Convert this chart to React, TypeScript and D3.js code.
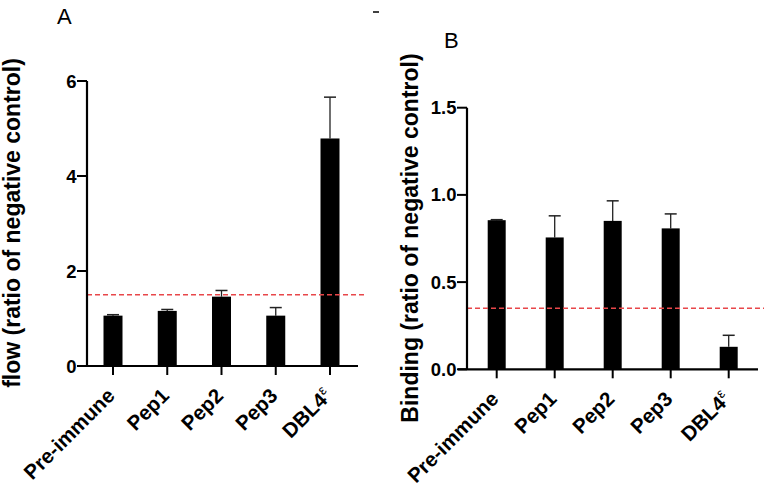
import React from "react";
import * as d3 from "d3";

const categories = ["Pre-immune", "Pep1", "Pep2", "Pep3", "DBL4"];
const flowValues = [1.06, 1.16, 1.46, 1.06, 4.79];
const flowErrors = [0.02, 0.03, 0.13, 0.17, 0.87];
const flowTicks = [0, 2, 4, 6];
const flowThreshold = 1.5;

const bindingValues = [0.855, 0.756, 0.851, 0.808, 0.129];
const bindingErrors = [0.003, 0.124, 0.115, 0.083, 0.066];
const bindingTicks = [0, 0.5, 1.0, 1.5];
const bindingThreshold = 0.35;

const FONT = "'Liberation Sans', Arial, sans-serif";

type PanelProps = {
  letter: string;
  letterX: number;
  letterY: number;
  ylabel: string;
  ylabelX: number;
  ylabelY: number;
  axisX: number;
  axisLeft: number;
  axisRight: number;
  y0: number;
  yTop: number;
  domainMax: number;
  ticks: number[];
  tickFmt: (v: number) => string;
  values: number[];
  errors: number[];
  threshold: number;
  thresholdRight: number;
  firstCenter: number;
  lastCenter: number;
  barWidth: number;
};

function Panel(p: PanelProps) {
  const y = d3.scaleLinear().domain([0, p.domainMax]).range([p.y0, p.yTop]);
  const x = d3
    .scalePoint<string>()
    .domain(categories)
    .range([p.firstCenter, p.lastCenter]);
  return (
    <g>
      <text x={p.letterX} y={p.letterY} fontFamily={FONT} fontSize={22} fill="#000">
        {p.letter}
      </text>
      <text
        transform={`translate(${p.ylabelX},${p.ylabelY}) rotate(-90)`}
        textAnchor="middle"
        fontFamily={FONT}
        fontWeight="bold"
        fontSize={23}
        fill="#000"
      >
        {p.ylabel}
      </text>
      {categories.map((c, i) => {
        const cx = x(c)!;
        const top = y(p.values[i]);
        const errTop = y(p.values[i] + p.errors[i]);
        return (
          <g key={c}>
            <line x1={cx} x2={cx} y1={top} y2={errTop} stroke="#222" strokeWidth={1.3} />
            <line x1={cx - 6} x2={cx + 6} y1={errTop} y2={errTop} stroke="#222" strokeWidth={1.5} />
            <rect x={cx - p.barWidth / 2} y={top} width={p.barWidth} height={p.y0 - top} fill="#000" />
          </g>
        );
      })}
      <line
        x1={p.axisX}
        x2={p.thresholdRight}
        y1={y(p.threshold)}
        y2={y(p.threshold)}
        stroke="#e8474a"
        strokeWidth={1.3}
        strokeDasharray="5,3"
      />
      <line x1={p.axisX} x2={p.axisX} y1={y(p.domainMax)} y2={p.y0} stroke="#000" strokeWidth={2.2} />
      {p.ticks.map((t) => (
        <g key={t}>
          <line x1={p.axisX - 10} x2={p.axisX} y1={y(t)} y2={y(t)} stroke="#000" strokeWidth={2} />
          <text
            x={p.axisX - 10.5}
            y={y(t) + 6.5}
            textAnchor="end"
            fontFamily={FONT}
            fontWeight="bold"
            fontSize={18.5}
            fill="#000"
          >
            {p.tickFmt(t)}
          </text>
        </g>
      ))}
      <line x1={p.axisLeft} x2={p.axisRight} y1={p.y0} y2={p.y0} stroke="#000" strokeWidth={2.2} />
      {categories.map((c, i) => {
        const cx = x(c)!;
        return (
          <g key={"t" + c}>
            <line x1={cx} x2={cx} y1={p.y0} y2={p.y0 + 9} stroke="#000" strokeWidth={2} />
            <g transform={`translate(${cx + 3},${p.y0 + 31}) rotate(-45)`}>
              <text
                textAnchor="end"
                fontFamily={FONT}
                fontWeight="bold"
                fontSize={20.5}
                fill="#000"
              >
                {c}
                {i === categories.length - 1 ? (
                  <tspan fontWeight="normal" fontSize={14} dy={-8}>
                    ε
                  </tspan>
                ) : null}
              </text>
            </g>
          </g>
        );
      })}
    </g>
  );
}

export default function App() {
  return (
    <svg
      width={764}
      height={488}
      style={{ position: "absolute", left: 0, top: 0, background: "#fff" }}
    >
      <rect width={764} height={488} fill="#fff" />
      <Panel
        letter="A"
        letterX={57}
        letterY={24}
        ylabel="flow (ratio of negative control)"
        ylabelX={20}
        ylabelY={223}
        axisX={87}
        axisLeft={78}
        axisRight={358}
        y0={366}
        yTop={81}
        domainMax={6}
        ticks={flowTicks}
        tickFmt={(v) => d3.format("d")(v)}
        values={flowValues}
        errors={flowErrors}
        threshold={flowThreshold}
        thresholdRight={367}
        firstCenter={113}
        lastCenter={330}
        barWidth={19}
      />
      <Panel
        letter="B"
        letterX={444}
        letterY={48}
        ylabel="Binding (ratio of negative control)"
        ylabelX={418}
        ylabelY={238}
        axisX={467}
        axisLeft={458}
        axisRight={758}
        y0={369.3}
        yTop={107.7}
        domainMax={1.5}
        ticks={bindingTicks}
        tickFmt={(v) => d3.format(".1f")(v)}
        values={bindingValues}
        errors={bindingErrors}
        threshold={bindingThreshold}
        thresholdRight={764}
        firstCenter={496.7}
        lastCenter={728.7}
        barWidth={18}
      />
      <line x1={373} x2={379} y1={12} y2={12} stroke="#000" strokeWidth={1.5} />
    </svg>
  );
}
